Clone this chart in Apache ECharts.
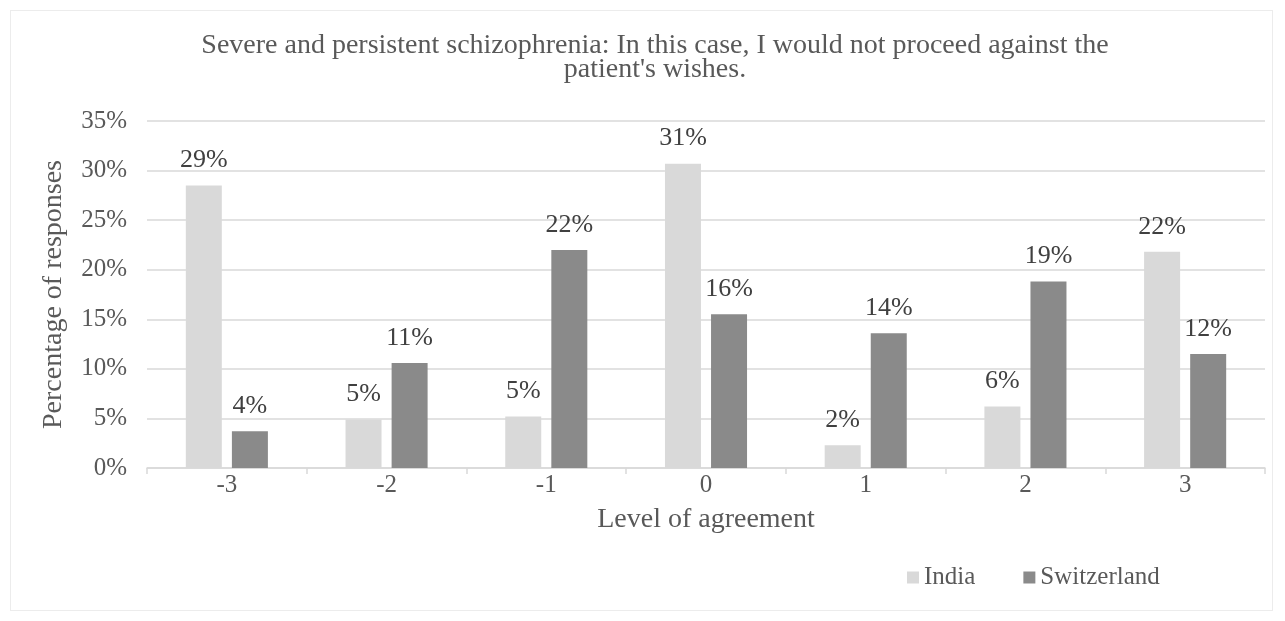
<!DOCTYPE html>
<html>
<head>
<meta charset="utf-8">
<script src="https://cdn.jsdelivr.net/npm/echarts@6/dist/echarts.min.js"></script>
<style>
  html, body { margin: 0; padding: 0; background: #ffffff; }
  #frame { position: absolute; left: 10px; top: 10px; width: 1263px; height: 601px; border: 1px solid #ececec; box-sizing: border-box; }
  #chart { width: 1285px; height: 621px; position: absolute; left: 0; top: 0; }
</style>
</head>
<body>
<div id="frame"></div>
<div id="chart"></div>
<script>
// Agreement levels on the Likert scale
const categories = ['-3', '-2', '-1', '0', '1', '2', '3'];
// Share of responses per level (%)
const india = [28.5, 4.9, 5.2, 30.7, 2.3, 6.2, 21.8];
const switzerland = [3.7, 10.6, 22.0, 15.5, 13.6, 18.8, 11.5];
const seriesNames = ['India', 'Switzerland'];
const titleText = 'Severe and persistent schizophrenia: In this case, I would not proceed against the\npatient\'s wishes.';

const serif = '"Liberation Serif", "DejaVu Serif", serif';

const chart = echarts.init(document.getElementById('chart'), null, { renderer: 'canvas' });

const labelStyle = {
  show: true,
  position: 'top',
  distance: 12,
  fontFamily: serif,
  fontSize: 26,
  color: '#404040',
  formatter: p => Math.round(p.value) + '%'
};

chart.setOption({
  animation: false,
  backgroundColor: 'transparent',
  title: {
    text: titleText,
    left: 650,
    textAlign: 'center',
    top: 29,
    textStyle: {
      fontFamily: serif,
      fontSize: 28,
      fontWeight: 'normal',
      color: '#595959',
      lineHeight: 24
    }
  },
  legend: {
    data: seriesNames,
    left: 902,
    top: 560,
    itemWidth: 12,
    itemHeight: 12,
    itemGap: 48,
    icon: 'rect',
    textStyle: { fontFamily: serif, fontSize: 25, color: '#595959' }
  },
  grid: { left: 147, right: 20, top: 121, bottom: 153, containLabel: false },
  xAxis: {
    type: 'category',
    data: categories,
    name: 'Level of agreement',
    nameLocation: 'middle',
    nameGap: 38,
    nameTextStyle: { fontFamily: serif, fontSize: 28, color: '#595959' },
    axisLine: { lineStyle: { color: '#d9d9d9', width: 1.5 } },
    axisTick: { show: true, length: 6, lineStyle: { color: '#d9d9d9', width: 1.5 } },
    axisLabel: { fontFamily: serif, fontSize: 25, color: '#595959', margin: 5 }
  },
  yAxis: {
    type: 'value',
    min: 0,
    max: 35,
    interval: 5,
    name: 'Percentage of responses',
    nameLocation: 'middle',
    nameGap: 79,
    nameTextStyle: { fontFamily: serif, fontSize: 28, color: '#595959' },
    axisLine: { show: false },
    axisTick: { show: false },
    axisLabel: { fontFamily: serif, fontSize: 25, color: '#595959', margin: 20, formatter: v => v + '%' },
    splitLine: { lineStyle: { color: '#d9d9d9', width: 1.5 } }
  },
  series: [
    {
      name: seriesNames[0],
      type: 'bar',
      data: india,
      barWidth: 36,
      barGap: '28%',
      itemStyle: { color: '#d9d9d9' },
      label: labelStyle
    },
    {
      name: seriesNames[1],
      type: 'bar',
      data: switzerland,
      barWidth: 36,
      barGap: '28%',
      itemStyle: { color: '#8a8a8a' },
      label: labelStyle
    }
  ]
});
</script>
</body>
</html>
